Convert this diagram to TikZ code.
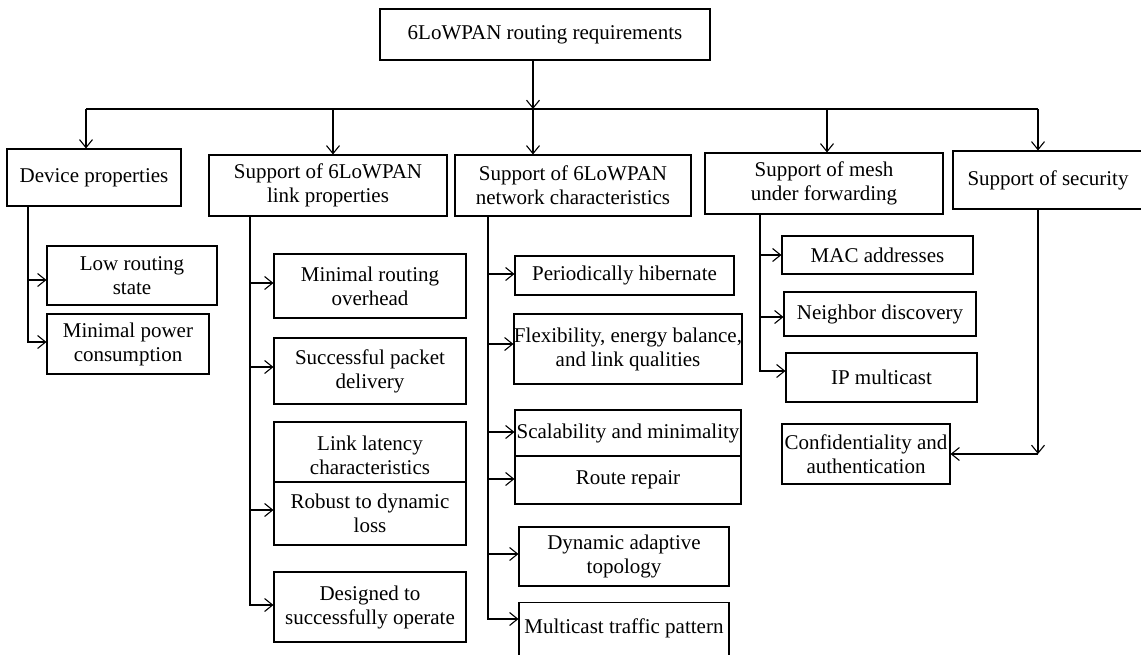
\documentclass[tikz,border=0pt]{standalone}
\usepackage{fontspec}
\setmainfont{Liberation Serif}
\usetikzlibrary{arrows.meta}
\begin{document}
\begin{tikzpicture}[x=1pt,y=-1pt,
  box/.style={draw, line width=1.1pt, fill=white, inner xsep=0pt, inner ysep=2pt,
    align=center, font=\fontsize{21}{24}\selectfont},
  conn/.style={line width=1.1pt},
  arr/.style={conn, -{Straight Barb[length=8pt,width=13pt]}}]
\useasboundingbox (0,0) rectangle (1141,654);

% root and first level
\node[box, minimum width=330pt, minimum height=51pt] (root) at (545,34.5) {6LoWPAN routing requirements};
\node[box, minimum width=174pt, minimum height=57pt] (dev) at (94,177.5) {Device properties};
\node[box, minimum width=238pt, minimum height=61pt] (link) at (328,185.5) {Support of 6LoWPAN\\link properties};
\node[box, minimum width=236pt, minimum height=61pt] (net) at (573,185.5) {Support of 6LoWPAN\\network characteristics};
\node[box, minimum width=238pt, minimum height=61pt] (mesh) at (824,183.5) {Support of mesh\\under forwarding};
\node[box, minimum width=190pt, minimum height=58pt] (sec) at (1048,180) {Support of security};

% device properties
\node[box, minimum width=170pt, minimum height=59pt] (low) at (132,275.5) {Low routing\\state};
\node[box, minimum width=162pt, minimum height=60pt] (pow) at (128,344) {Minimal power\\consumption};

% link properties
\node[box, minimum width=192pt, minimum height=64pt] (mro) at (370,286) {Minimal routing\\overhead};
\node[box, minimum width=192pt, minimum height=66pt] (spd) at (370,371) {Successful packet\\delivery};
\node[box, minimum width=192pt, minimum height=67pt] (lat) at (370,455.5) {Link latency\\characteristics};
\node[box, minimum width=192pt, minimum height=63pt] (rob) at (370,513.5) {Robust to dynamic\\loss};
\node[box, minimum width=192pt, minimum height=70pt] (des) at (370,607) {Designed to\\successfully operate};

% network characteristics
\node[box, minimum width=219pt, minimum height=39pt] (hib) at (624.5,275.5) {Periodically hibernate};
\node[box, minimum width=226pt, minimum height=70pt] (flx) at (628,349) {Flexibility, energy balance,\\and link qualities};
\node[box, minimum width=226pt, minimum height=46pt] (scl) at (628,433) {Scalability and minimality};
\node[box, minimum width=226pt, minimum height=48pt] (rep) at (628,480) {Route repair};
\node[box, minimum width=210pt, minimum height=59pt] (dyn) at (624,556.5) {Dynamic adaptive\\topology};
\node[box, minimum width=210pt, anchor=north, inner ysep=16pt, text depth=40pt] (mul) at (624,602) {Multicast traffic pattern};

% mesh under forwarding
\node[box, minimum width=191pt, minimum height=38pt] (mac) at (877.5,255) {MAC addresses};
\node[box, minimum width=192pt, minimum height=44pt] (nbr) at (880,314) {Neighbor discovery};
\node[box, minimum width=191pt, minimum height=49pt] (ipm) at (881.5,377.5) {IP multicast};

% security
\node[box, minimum width=168pt, minimum height=60pt] (conf) at (866,454) {Confidentiality and\\authentication};

% distribution bus below the root
\coordinate (bus) at (533,109);
\coordinate (busL) at (86,109);
\coordinate (busR) at (1038,109);
\coordinate (dl) at (333,109);
\coordinate (dm) at (827,109);
\draw[conn] (busL) -- (busR);
\draw[arr] (root.south -| bus) -- (bus);
\draw[arr] (busL) -- (busL |- dev.north);
\draw[arr] (dl) -- (dl |- link.north);
\draw[arr] (bus) -- (bus |- net.north);
\draw[arr] (dm) -- (dm |- mesh.north);
\draw[arr] (busR) -- (busR |- sec.north);

% trunks of the second level
\coordinate (tdev) at (28,0);
\coordinate (tlink) at (250,0);
\coordinate (tnet) at (488,0);
\coordinate (tmesh) at (760,0);

\draw[arr] (dev.south -| tdev) |- ([yshift=-4.5pt]low.west);
\draw[arr] (dev.south -| tdev) |- ([yshift=2pt]pow.west);

\draw[arr] (link.south -| tlink) |- ([yshift=3pt]mro.west);
\draw[arr] (link.south -| tlink) |- ([yshift=4pt]spd.west);
\draw[arr] (link.south -| tlink) |- ([yshift=3.5pt]rob.west);
\draw[arr] (link.south -| tlink) |- ([yshift=2pt]des.west);

\draw[arr] (net.south -| tnet) |- ([yshift=1.5pt]hib.west);
\draw[arr] (net.south -| tnet) |- ([yshift=5pt]flx.west);
\draw[arr] (net.south -| tnet) |- ([yshift=1pt]scl.west);
\draw[arr] (net.south -| tnet) |- ([yshift=1pt]rep.west);
\draw[arr] (net.south -| tnet) |- ([yshift=2.5pt]dyn.west);
\draw[arr] (net.south -| tnet) |- ([yshift=-17pt]mul.north west);

\draw[arr] (mesh.south -| tmesh) |- (mac.west);
\draw[arr] (mesh.south -| tmesh) |- ([yshift=-3pt]nbr.west);
\draw[arr] (mesh.south -| tmesh) |- ([yshift=6.5pt]ipm.west);

\draw[arr] (sec.south -| busR) -- (busR |- conf.east);
\draw[arr] (busR |- conf.east) -- (conf.east);
\end{tikzpicture}
\end{document}
